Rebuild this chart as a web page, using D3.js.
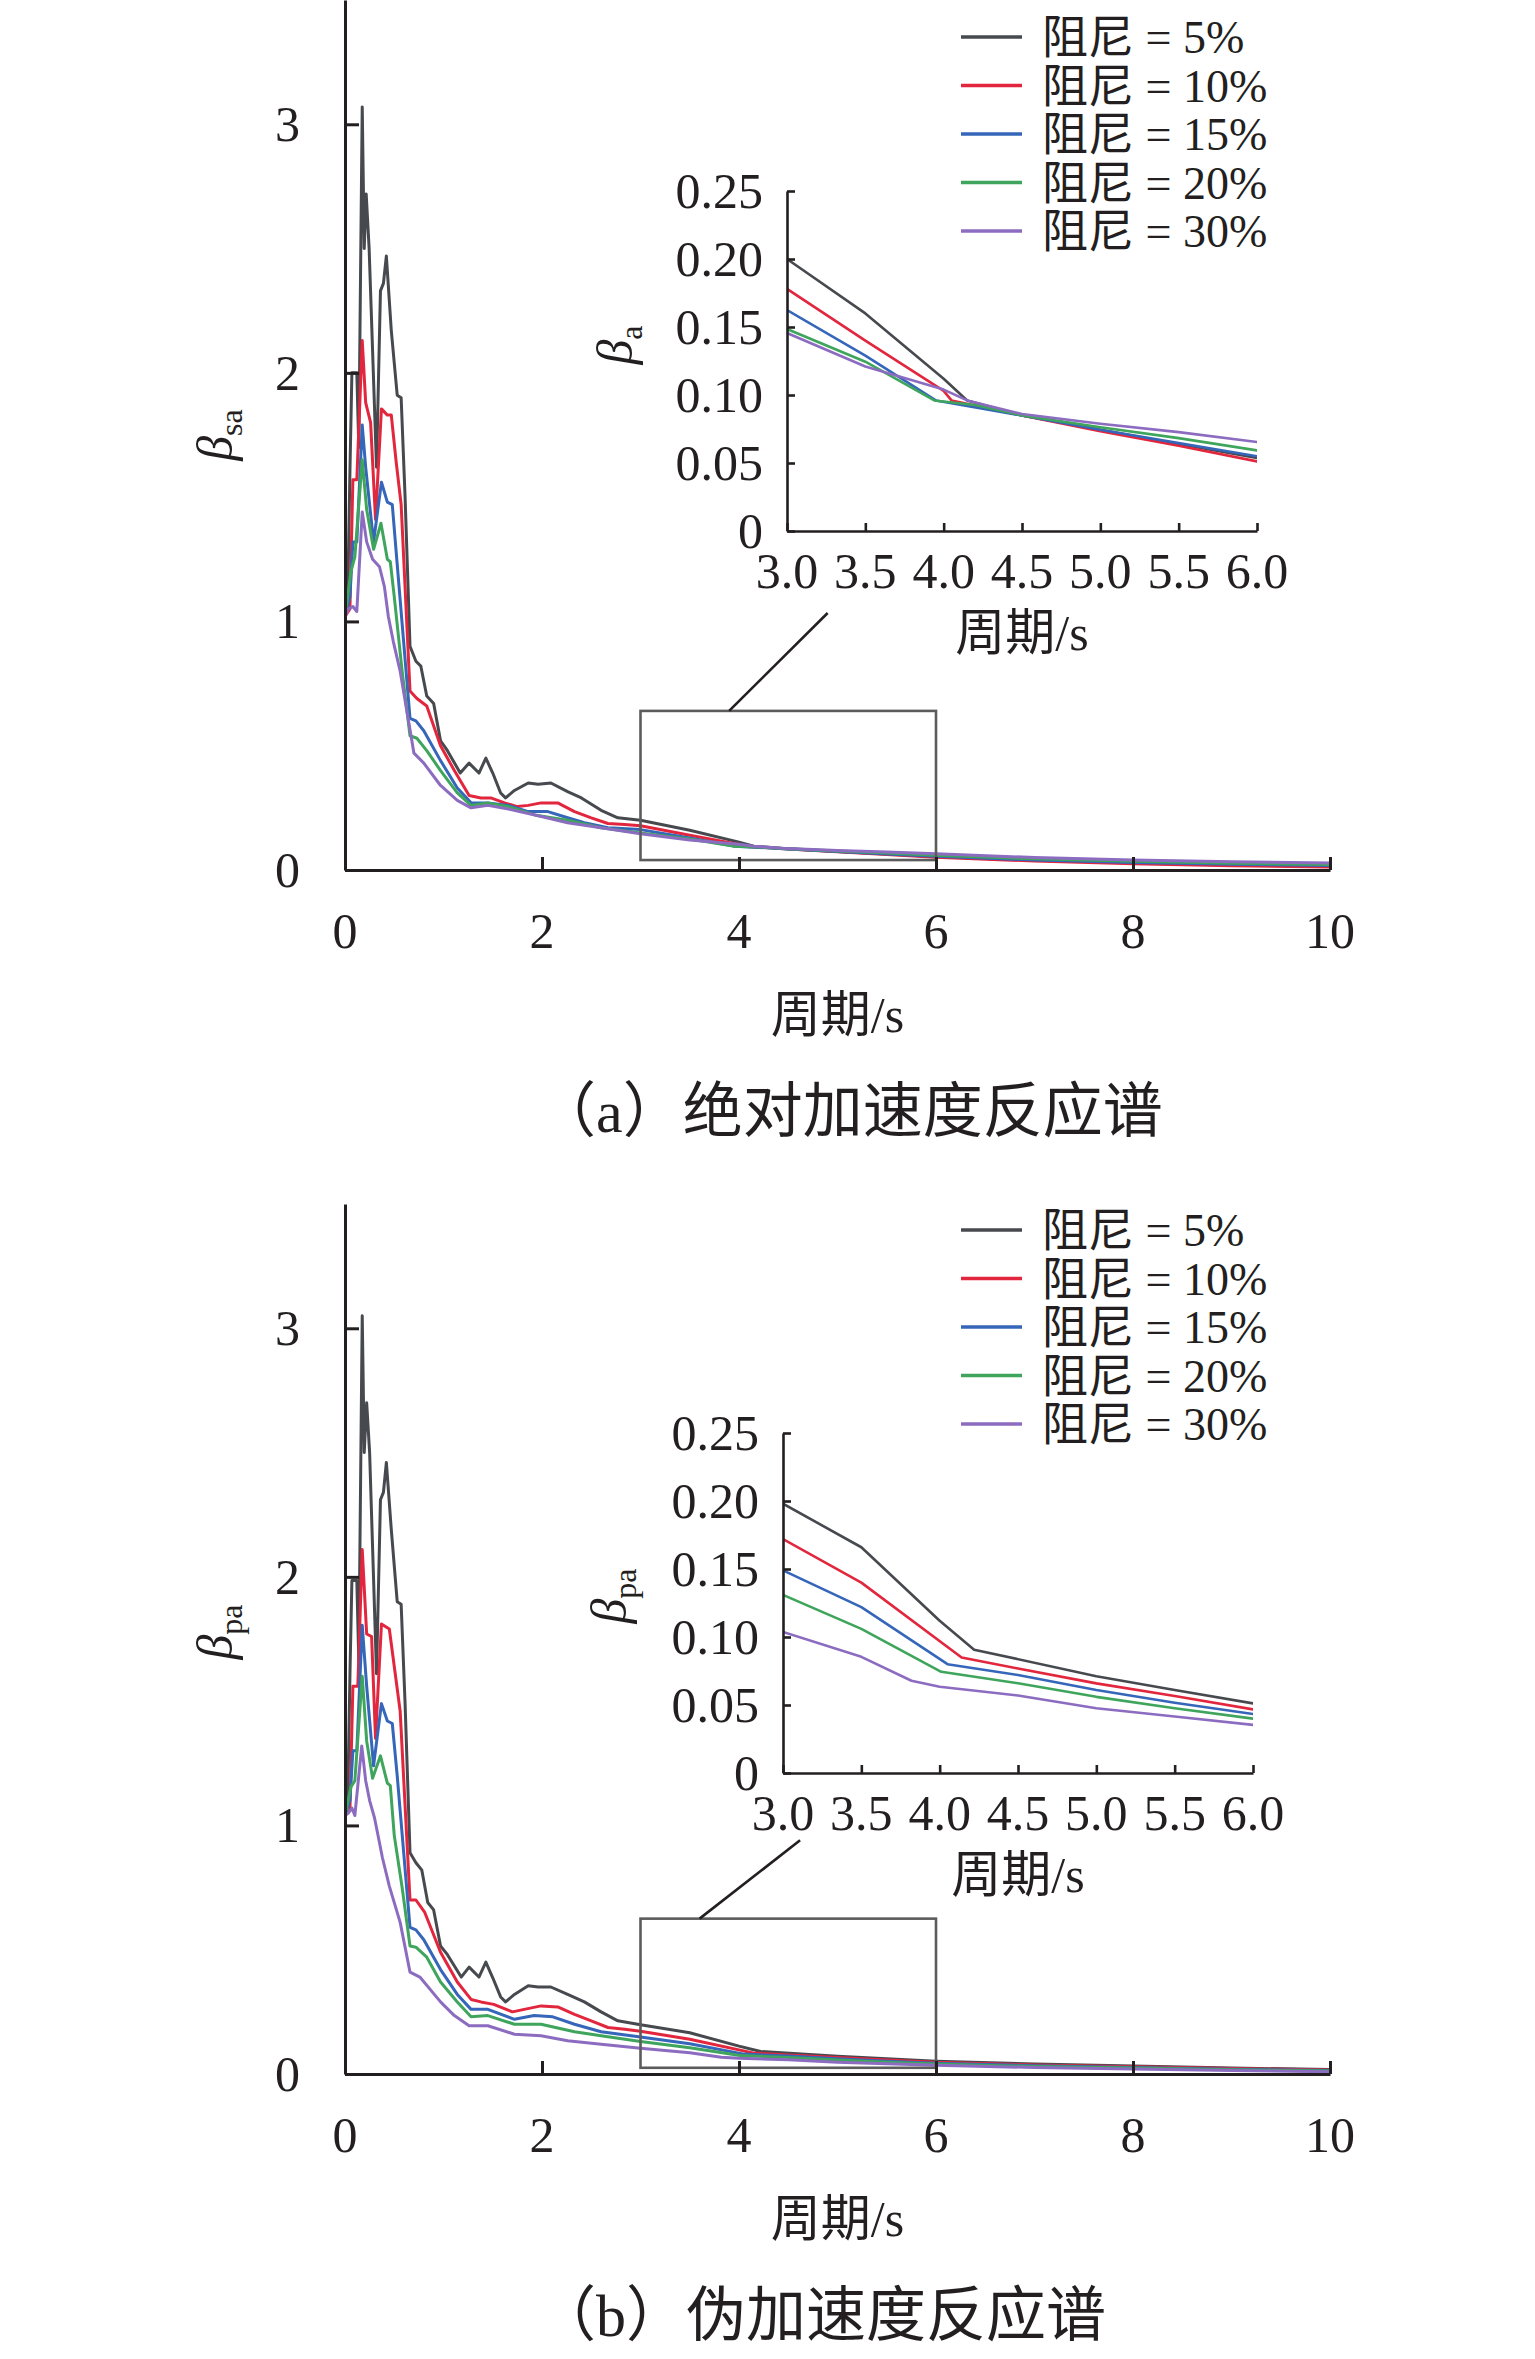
<!DOCTYPE html>
<html>
<head>
<meta charset="utf-8">
<script src="https://cdn.jsdelivr.net/npm/d3@7"></script>
<style>
  body { margin: 0; background: #fff; }
  svg text { font-family: "Liberation Serif", "Noto Sans CJK SC", serif; fill: #231f20; }
  .cjk { font-family: "Liberation Serif", "Noto Sans CJK SC", serif; }
</style>
</head>
<body>
<svg id="chart" width="1535" height="2359"></svg>
<script>
// damping ratios shown in legend
const dampLabels = ["阻尼 = 5%", "阻尼 = 10%", "阻尼 = 15%", "阻尼 = 20%", "阻尼 = 30%"];
const dampColors = ["#46494e", "#e2263d", "#3566b9", "#3fa55c", "#8c6cc0"];

const mainXTicks = [0, 2, 4, 6, 8, 10];
const mainYTicks = [0, 1, 2, 3];
const insetXTicks = [3.0, 3.5, 4.0, 4.5, 5.0, 5.5, 6.0];
const insetYTicks = [0, 0.05, 0.10, 0.15, 0.20, 0.25];

// (a) absolute acceleration spectrum, [period, beta]
const abs5 = [[0,1.02],[0.03,1.15],[0.05,1.6],[0.07,2.0],[0.12,2.0],[0.14,1.7],[0.175,3.07],[0.195,2.5],[0.215,2.72],[0.245,2.5],[0.32,1.62],[0.36,2.33],[0.39,2.36],[0.42,2.47],[0.47,2.17],[0.53,1.91],[0.57,1.9],[0.61,1.5],[0.66,0.9],[0.72,0.84],[0.77,0.82],[0.83,0.7],[0.9,0.67],[0.97,0.52],[1.04,0.48],[1.17,0.39],[1.26,0.43],[1.36,0.39],[1.43,0.45],[1.5,0.39],[1.58,0.31],[1.63,0.29],[1.72,0.32],[1.86,0.35],[1.96,0.345],[2.09,0.35],[2.26,0.315],[2.4,0.29],[2.6,0.24],[2.77,0.21],[3.0,0.2],[3.5,0.16],[4.0,0.112],[4.15,0.096],[4.5,0.085],[5.0,0.0744],[5.5,0.064],[6.0,0.0537],[7,0.04],[8,0.028],[9,0.02],[10,0.015]];
const abs10 = [[0,1.02],[0.05,1.05],[0.08,1.57],[0.12,1.57],[0.175,2.13],[0.21,1.88],[0.26,1.8],[0.31,1.41],[0.37,1.855],[0.43,1.83],[0.47,1.83],[0.52,1.64],[0.57,1.47],[0.66,0.72],[0.73,0.69],[0.83,0.66],[0.97,0.5],[1.11,0.4],[1.26,0.3],[1.38,0.29],[1.48,0.29],[1.62,0.27],[1.75,0.255],[1.86,0.26],[1.99,0.27],[2.16,0.27],[2.33,0.235],[2.5,0.21],[2.67,0.187],[2.84,0.183],[3.0,0.178],[3.5,0.14],[4.0,0.103],[4.05,0.096],[4.5,0.0849],[5.0,0.0734],[5.5,0.0627],[6.0,0.0512],[7,0.036],[8,0.025],[9,0.017],[10,0.012]];
const abs15 = [[0,1.02],[0.05,1.1],[0.08,1.32],[0.12,1.32],[0.175,1.79],[0.21,1.62],[0.29,1.32],[0.37,1.56],[0.43,1.48],[0.48,1.47],[0.53,1.23],[0.66,0.61],[0.72,0.6],[0.8,0.56],[0.97,0.44],[1.14,0.33],[1.28,0.27],[1.45,0.27],[1.66,0.26],[1.86,0.235],[2.06,0.235],[2.26,0.21],[2.43,0.19],[2.67,0.17],[3.0,0.1625],[3.5,0.129],[3.95,0.096],[4.5,0.0849],[5.0,0.0744],[5.5,0.0646],[6.0,0.0549],[7,0.04],[8,0.03],[9,0.023],[10,0.018]];
const abs20 = [[0,1.02],[0.06,1.2],[0.1,1.26],[0.175,1.65],[0.22,1.45],[0.29,1.29],[0.365,1.395],[0.43,1.25],[0.46,1.24],[0.5,1.1],[0.58,0.8],[0.66,0.54],[0.73,0.53],[0.83,0.48],[0.97,0.4],[1.14,0.31],[1.28,0.26],[1.45,0.27],[1.66,0.255],[1.94,0.22],[2.26,0.2],[2.6,0.17],[3.0,0.1485],[3.5,0.1245],[3.94,0.096],[4.2,0.0926],[4.5,0.085],[5.0,0.0763],[5.5,0.0683],[6.0,0.0593],[7,0.045],[8,0.035],[9,0.027],[10,0.022]];
const abs30 = [[0,1.02],[0.035,1.05],[0.08,1.06],[0.12,1.04],[0.175,1.44],[0.22,1.32],[0.28,1.25],[0.35,1.22],[0.4,1.14],[0.44,1.02],[0.49,0.92],[0.56,0.8],[0.7,0.47],[0.8,0.43],[0.97,0.34],[1.14,0.28],[1.28,0.25],[1.45,0.26],[1.66,0.245],[1.94,0.22],[2.26,0.19],[2.6,0.17],[3.0,0.1456],[3.5,0.121],[4.0,0.104],[4.15,0.096],[4.5,0.086],[5.0,0.0788],[5.5,0.0727],[6.0,0.0654],[7,0.05],[8,0.04],[9,0.033],[10,0.028]];

// (b) pseudo acceleration spectrum, [period, beta]
const pse5 = [[0,1.04],[0.03,1.15],[0.05,1.6],[0.07,1.985],[0.12,1.985],[0.14,1.66],[0.175,3.05],[0.195,2.5],[0.22,2.7],[0.25,2.5],[0.32,1.61],[0.36,2.31],[0.39,2.34],[0.42,2.46],[0.47,2.19],[0.53,1.9],[0.57,1.89],[0.61,1.49],[0.66,0.89],[0.72,0.85],[0.78,0.82],[0.84,0.69],[0.9,0.66],[0.97,0.515],[1.04,0.48],[1.18,0.39],[1.26,0.43],[1.36,0.39],[1.43,0.45],[1.5,0.387],[1.58,0.31],[1.63,0.29],[1.72,0.32],[1.86,0.355],[1.96,0.35],[2.09,0.35],[2.26,0.32],[2.43,0.29],[2.6,0.25],[2.77,0.214],[3.0,0.198],[3.5,0.166],[4.0,0.112],[4.22,0.0907],[5.0,0.0712],[5.5,0.061],[6.0,0.0512],[7,0.04],[8,0.032],[9,0.024],[10,0.018]];
const pse10 = [[0,1.04],[0.05,1.06],[0.08,1.56],[0.13,1.56],[0.175,2.11],[0.22,1.77],[0.27,1.76],[0.31,1.35],[0.37,1.81],[0.45,1.79],[0.51,1.61],[0.56,1.46],[0.66,0.7],[0.72,0.7],[0.81,0.65],[0.97,0.49],[1.14,0.37],[1.28,0.3],[1.38,0.29],[1.51,0.28],[1.7,0.25],[1.82,0.26],[1.99,0.274],[2.16,0.27],[2.33,0.24],[2.5,0.214],[2.67,0.187],[2.84,0.18],[3.0,0.172],[3.5,0.14],[4.14,0.0849],[4.5,0.0768],[5.0,0.0659],[5.5,0.0566],[6.0,0.0468],[7,0.036],[8,0.029],[9,0.022],[10,0.016]];
const pse15 = [[0,1.04],[0.05,1.1],[0.08,1.3],[0.12,1.3],[0.175,1.805],[0.22,1.56],[0.29,1.24],[0.37,1.49],[0.43,1.42],[0.48,1.41],[0.53,1.2],[0.66,0.59],[0.72,0.58],[0.8,0.54],[0.97,0.42],[1.14,0.32],[1.28,0.26],[1.45,0.26],[1.72,0.22],[1.92,0.235],[2.11,0.23],[2.33,0.2],[2.6,0.17],[3.0,0.149],[3.5,0.122],[4.05,0.08],[4.5,0.072],[5.0,0.061],[5.5,0.0517],[6.0,0.0434],[7,0.033],[8,0.026],[9,0.019],[10,0.014]];
const pse20 = [[0,1.04],[0.06,1.155],[0.1,1.18],[0.175,1.6],[0.22,1.34],[0.28,1.19],[0.36,1.28],[0.43,1.17],[0.46,1.16],[0.5,0.96],[0.58,0.75],[0.66,0.515],[0.72,0.51],[0.83,0.47],[0.97,0.37],[1.14,0.29],[1.28,0.23],[1.45,0.235],[1.72,0.2],[1.99,0.2],[2.33,0.17],[2.6,0.154],[3.0,0.131],[3.5,0.106],[4.01,0.0744],[4.5,0.066],[5.0,0.056],[5.5,0.0476],[6.0,0.04],[7,0.03],[8,0.024],[9,0.017],[10,0.012]];
const pse30 = [[0,1.04],[0.035,1.05],[0.07,1.07],[0.1,1.04],[0.17,1.32],[0.21,1.18],[0.25,1.1],[0.3,1.03],[0.35,0.93],[0.38,0.87],[0.45,0.756],[0.56,0.61],[0.66,0.41],[0.76,0.39],[0.97,0.29],[1.11,0.235],[1.26,0.194],[1.45,0.194],[1.72,0.16],[1.99,0.154],[2.26,0.134],[2.6,0.12],[3.0,0.1037],[3.5,0.0854],[3.82,0.0678],[4.0,0.0634],[4.5,0.057],[5.0,0.0476],[5.5,0.0415],[6.0,0.0354],[7,0.026],[8,0.02],[9,0.014],[10,0.009]];

const panels = [
  {
    series: [abs5, abs10, abs15, abs20, abs30],
    sub: "sa", insetSub: "a",
    caption: "（a）绝对加速度反应谱",
    main: { x0: 345, x1: 1330, y0: 870, y1: 0 },
    inset: { x0: 787, x1: 1257, y0: 531, y1: 191 },
    legendY: 37,
    zoomBox: [3, 6, 0.04, 0.64],
    connector: [[3.9, 0.64], [4.9, 1.034]],
    mainLabelY: 435, insetLabelY: 345, insetLabelX: 622
  },
  {
    series: [pse5, pse10, pse15, pse20, pse30],
    sub: "pa", insetSub: "pa",
    caption: "（b）伪加速度反应谱",
    main: { x0: 345, x1: 1330, y0: 2074, y1: 1204 },
    inset: { x0: 783, x1: 1253, y0: 1773, y1: 1433 },
    legendY: 1230,
    zoomBox: [3, 6, 0.025, 0.625],
    connector: [[3.6, 0.625], [4.62, 0.94]],
    mainLabelY: 1632, insetLabelY: 1596, insetLabelX: 616
  }
];

const svg = d3.select("#chart");

function betaLabel(g, x, y, sub) {
  const t = g.append("text")
    .attr("transform", "translate(" + x + "," + y + ") rotate(-90)")
    .attr("text-anchor", "middle")
    .attr("font-size", 50);
  t.append("tspan").attr("font-style", "italic").text("β");
  t.append("tspan").attr("font-size", 32).attr("dy", 10).text(sub);
}

panels.forEach(function (p, pi) {
  const g = svg.append("g");

  // ---- main plot
  const x = d3.scaleLinear().domain([0, 10]).range([p.main.x0, p.main.x1]);
  const y = d3.scaleLinear().domain([0, 3.5]).range([p.main.y0, p.main.y1]);

  const clipId = "clipMain" + pi;
  g.append("clipPath").attr("id", clipId).append("rect")
    .attr("x", x(0)).attr("y", y(3.5))
    .attr("width", x(10) - x(0)).attr("height", y(0) - y(3.5));

  const line = d3.line().x(d => x(d[0])).y(d => y(d[1]));
  g.append("g").attr("clip-path", "url(#" + clipId + ")")
    .selectAll("path").data(p.series).enter().append("path")
    .attr("d", line)
    .attr("fill", "none")
    .attr("stroke", (d, i) => dampColors[i])
    .attr("stroke-width", 3)
    .attr("stroke-linejoin", "round");

  // zoom box
  const zb = p.zoomBox;
  g.append("rect")
    .attr("x", x(zb[0])).attr("y", y(zb[3]))
    .attr("width", x(zb[1]) - x(zb[0])).attr("height", y(zb[2]) - y(zb[3]))
    .attr("fill", "none").attr("stroke", "#5c5c5c").attr("stroke-width", 2.6);

  g.append("line")
    .attr("x1", x(p.connector[0][0])).attr("y1", y(p.connector[0][1]))
    .attr("x2", x(p.connector[1][0])).attr("y2", y(p.connector[1][1]))
    .attr("stroke", "#231f20").attr("stroke-width", 2.6);

  // axes (ticks inside)
  const xAxis = d3.axisBottom(x).tickValues(mainXTicks).tickSizeInner(-13).tickSizeOuter(0).tickPadding(0).tickFormat("");
  const yAxis = d3.axisLeft(y).tickValues(mainYTicks).tickSizeInner(-14).tickSizeOuter(0).tickFormat("");
  const gx = g.append("g").attr("transform", "translate(0," + y(0) + ")").call(xAxis);
  const gy = g.append("g").attr("transform", "translate(" + x(0) + ",0)").call(yAxis);
  [gx, gy].forEach(a => {
    a.select(".domain").attr("stroke", "#231f20").attr("stroke-width", 3);
    a.selectAll(".tick line").attr("stroke", "#231f20").attr("stroke-width", 3);
  });

  g.selectAll(".xlab").data(mainXTicks).enter().append("text")
    .attr("x", d => x(d)).attr("y", y(0) + 78)
    .attr("text-anchor", "middle").attr("font-size", 50).text(d => d);
  g.selectAll(".ylab").data(mainYTicks).enter().append("text")
    .attr("x", x(0) - 45).attr("y", d => y(d) + 17)
    .attr("text-anchor", "end").attr("font-size", 50).text(d => d);

  g.append("text").attr("class", "cjk")
    .attr("x", (p.main.x0 + p.main.x1) / 2).attr("y", y(0) + 162)
    .attr("text-anchor", "middle").attr("font-size", 50).text("周期/s");

  betaLabel(g, 232, p.mainLabelY, p.sub);

  g.append("text").attr("class", "cjk")
    .attr("x", 536).attr("y", y(0) + 262)
    .attr("text-anchor", "start").attr("font-size", 60).text(p.caption);

  // ---- inset
  const xi = d3.scaleLinear().domain([3, 6]).range([p.inset.x0, p.inset.x1]);
  const yi = d3.scaleLinear().domain([0, 0.25]).range([p.inset.y0, p.inset.y1]);

  const clipIn = "clipInset" + pi;
  g.append("clipPath").attr("id", clipIn).append("rect")
    .attr("x", xi(3)).attr("y", yi(0.25))
    .attr("width", xi(6) - xi(3)).attr("height", yi(0) - yi(0.25));

  const lineIn = d3.line().x(d => xi(d[0])).y(d => yi(d[1]));
  g.append("g").attr("clip-path", "url(#" + clipIn + ")")
    .selectAll("path").data(p.series).enter().append("path")
    .attr("d", d => lineIn(d.filter(v => v[0] >= 2.6 && v[0] <= 7)))
    .attr("fill", "none")
    .attr("stroke", (d, i) => dampColors[i])
    .attr("stroke-width", 2.6)
    .attr("stroke-linejoin", "round");

  const xiAxis = d3.axisBottom(xi).tickValues(insetXTicks).tickSizeInner(-8).tickSizeOuter(0).tickFormat("");
  const yiAxis = d3.axisLeft(yi).tickValues(insetYTicks).tickSizeInner(-8).tickSizeOuter(0).tickFormat("");
  const gxi = g.append("g").attr("transform", "translate(0," + yi(0) + ")").call(xiAxis);
  const gyi = g.append("g").attr("transform", "translate(" + xi(3) + ",0)").call(yiAxis);
  [gxi, gyi].forEach(a => {
    a.select(".domain").attr("stroke", "#231f20").attr("stroke-width", 2.6);
    a.selectAll(".tick line").attr("stroke", "#231f20").attr("stroke-width", 2.6);
  });

  g.selectAll(".xilab").data(insetXTicks).enter().append("text")
    .attr("x", d => xi(d)).attr("y", yi(0) + 57)
    .attr("text-anchor", "middle").attr("font-size", 50).text(d => d3.format(".1f")(d));
  g.selectAll(".yilab").data(insetYTicks).enter().append("text")
    .attr("x", xi(3) - 24).attr("y", d => yi(d) + 17)
    .attr("text-anchor", "end").attr("font-size", 50)
    .text(d => d === 0 ? "0" : d3.format(".2f")(d));

  g.append("text").attr("class", "cjk")
    .attr("x", (p.inset.x0 + p.inset.x1) / 2).attr("y", yi(0) + 119)
    .attr("text-anchor", "middle").attr("font-size", 50).text("周期/s");

  betaLabel(g, p.insetLabelX + 10, p.insetLabelY, p.insetSub);

  // ---- legend
  const leg = g.selectAll(".leg").data(dampLabels).enter().append("g")
    .attr("transform", (d, i) => "translate(0," + (p.legendY + i * 48.5) + ")");
  leg.append("line")
    .attr("x1", 961).attr("x2", 1022).attr("y1", 0).attr("y2", 0)
    .attr("stroke", (d, i) => dampColors[i]).attr("stroke-width", 3.5);
  leg.append("text").attr("class", "cjk")
    .attr("x", 1042).attr("y", 16)
    .attr("font-size", 46).text(d => d);
});
</script>
</body>
</html>
